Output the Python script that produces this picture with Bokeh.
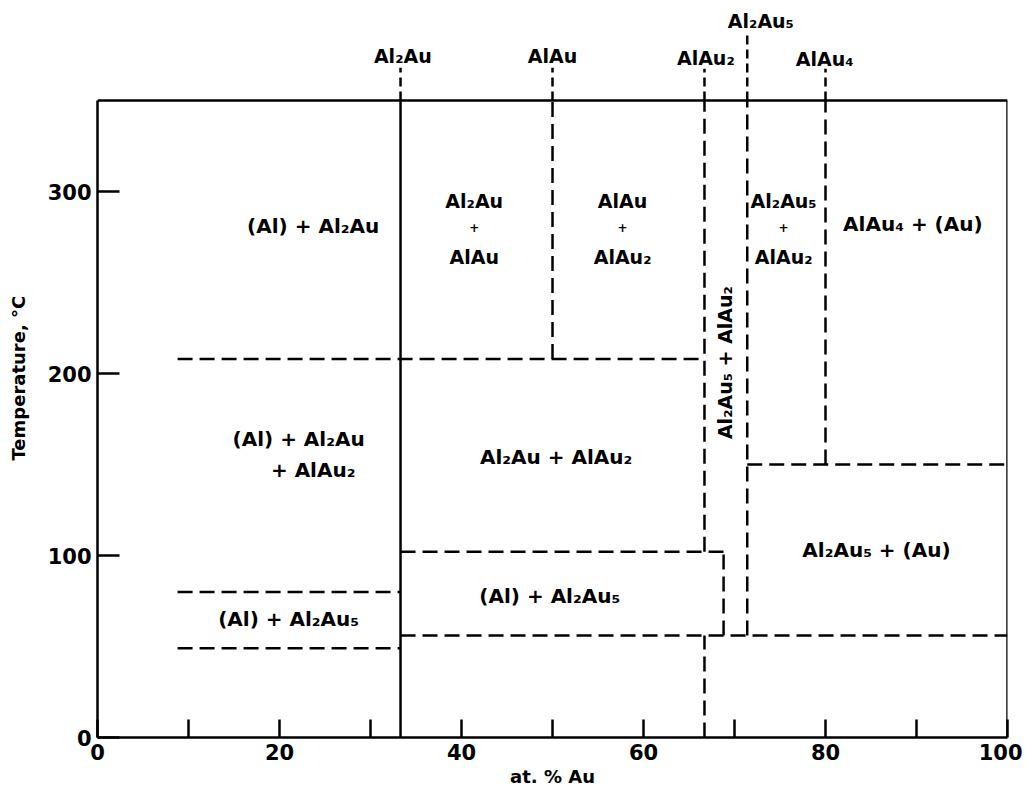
import math
from bokeh.plotting import figure
from bokeh.models import Range1d, FixedTicker, ColumnDataSource
from bokeh.core.properties import value
from bokeh.embed import file_html
from bokeh.resources import INLINE

# ---------------- data (at.% Au, temperature in °C) ----------------
# intermetallic compositions shown at the top of the diagram
phase_names = ["Al₂Au", "AlAu", "AlAu₂", "Al₂Au₅", "AlAu₄"]
phase_x = [33.3, 50.0, 66.7, 71.4, 80.0]

# solid phase boundary (Al2Au line)
solid_x0 = [33.3]
solid_y0 = [0]
solid_x1 = [33.3]
solid_y1 = [350]

# dashed (uncertain) phase boundaries
dash_x0 = [8.8, 50.0, 66.7, 71.4, 80.0, 33.3, 68.8, 33.3, 66.7, 71.4, 8.8, 8.8]
dash_y0 = [208, 208, 102, 56, 150, 102, 56, 56, 0, 150, 80, 49]
dash_x1 = [66.7, 50.0, 66.7, 71.4, 80.0, 68.8, 68.8, 100, 66.7, 100, 33.3, 33.3]
dash_y1 = [208, 350, 350, 350, 350, 102, 102, 56, 56, 150, 80, 49]

# region labels
region_text = ["(Al) + Al₂Au", "Al₂Au", "+", "AlAu", "AlAu", "+", "AlAu₂",
               "Al₂Au₅", "+", "AlAu₂", "AlAu₄ + (Au)", "(Al) + Al₂Au", "+ AlAu₂",
               "Al₂Au + AlAu₂", "Al₂Au₅ + (Au)", "(Al) + Al₂Au₅", "(Al) + Al₂Au₅"]
region_x = [23.7, 41.4, 41.4, 41.4, 57.7, 57.7, 57.7,
            75.4, 75.4, 75.4, 89.6, 22.1, 23.7,
            50.4, 85.6, 49.7, 21.0]
region_y = [281, 295, 280, 264, 295, 280, 264,
            295, 280, 264, 282, 164, 147,
            154, 103, 78, 65]
region_size = ["20px", "19px", "12px", "19px", "19px", "12px", "19px",
               "19px", "12px", "19px", "20px", "20px", "20px",
               "20px", "20px", "20px", "20px"]

vert_text = ["Al₂Au₅ + AlAu₂"]
vert_x = [69.0]
vert_y = [206]

x_major = [0, 20, 40, 60, 80, 100]
x_minor = [10, 30, 50, 70, 90]
y_major = [0, 100, 200, 300]

# ---------------- figure ----------------
FONT = "DejaVu Sans"
Y_TOP = 350 * 725 / 637.0

p = figure(frame_width=910, frame_height=725,
           x_range=Range1d(0, 100), y_range=Range1d(0, Y_TOP),
           output_backend="svg", toolbar_location=None,
           min_border_left=97, min_border_right=15,
           min_border_top=12, min_border_bottom=50,
           background_fill_color="white", border_fill_color="white")
p.outline_line_color = None
p.grid.visible = False

# axes
p.xaxis.ticker = FixedTicker(ticks=x_major, minor_ticks=x_minor)
p.yaxis.ticker = FixedTicker(ticks=y_major, minor_ticks=[])
p.yaxis.bounds = (0, 350)
for ax in (p.xaxis, p.yaxis):
    ax.axis_line_width = 2.5
    ax.axis_line_color = "black"
    ax.major_tick_line_width = 2.5
    ax.minor_tick_line_width = 2.5
    ax.major_tick_line_color = "black"
    ax.minor_tick_line_color = "black"
    ax.major_label_text_font = FONT
    ax.major_label_text_font_style = "bold"
    ax.major_label_text_font_size = "21px"
    ax.major_label_text_color = "black"
    ax.axis_label_text_font = FONT
    ax.axis_label_text_font_style = "bold"
    ax.axis_label_text_font_size = "18px"
    ax.axis_label_text_color = "black"
p.xaxis.major_tick_in = 18
p.xaxis.major_tick_out = 0
p.xaxis.minor_tick_in = 18
p.xaxis.minor_tick_out = 0
p.yaxis.major_tick_in = 22
p.yaxis.major_tick_out = 0
p.yaxis.minor_tick_in = 0
p.yaxis.minor_tick_out = 0
p.xaxis.major_label_standoff = 6
p.yaxis.major_label_standoff = 6
p.xaxis.axis_label = "at. % Au"
p.yaxis.axis_label = "Temperature,  °C"
p.xaxis.axis_label_standoff = 3
p.yaxis.axis_label_standoff = 16

# frame top and right
p.segment(x0=[0, 100], y0=[350, 0], x1=[100, 100], y1=[350, 350],
          line_color="black", line_width=2.5)

# boundaries
p.segment(x0=solid_x0, y0=solid_y0, x1=solid_x1, y1=solid_y1,
          line_color="black", line_width=2.5)
p.segment(x0=dash_x0, y0=dash_y0, x1=dash_x1, y1=dash_y1,
          line_color="black", line_width=2.5, line_dash="15 7")

# phase lines extending above the frame to their labels
label_y = [374.5, 374.5, 373.5, 393.5, 373.0]
label_dx = [0.25, 0.0, 0.15, 1.5, -0.1]
ext_top = [368, 368, 367.5, 386, 367.5]
p.segment(x0=phase_x, y0=[350] * 5, x1=phase_x, y1=ext_top,
          line_color="black", line_width=2.5, line_dash="9 5")
p.text(x=[x + d for x, d in zip(phase_x, label_dx)], y=label_y, text=phase_names,
       text_font=value(FONT), text_font_style="bold", text_font_size="19px",
       text_align="center", text_baseline="middle", text_color="black")

# region labels
src = ColumnDataSource(dict(x=region_x, y=region_y, t=region_text, s=region_size))
p.text(x="x", y="y", text="t", source=src, text_font=value(FONT),
       text_font_style="bold", text_font_size="s",
       text_align="center", text_baseline="middle", text_color="black")
p.text(x=vert_x, y=vert_y, text=vert_text, angle=math.pi / 2,
       text_font=value(FONT), text_font_style="bold", text_font_size="19px",
       text_align="center", text_baseline="middle", text_color="black")

open("out.html", "w").write(file_html(p, INLINE))
